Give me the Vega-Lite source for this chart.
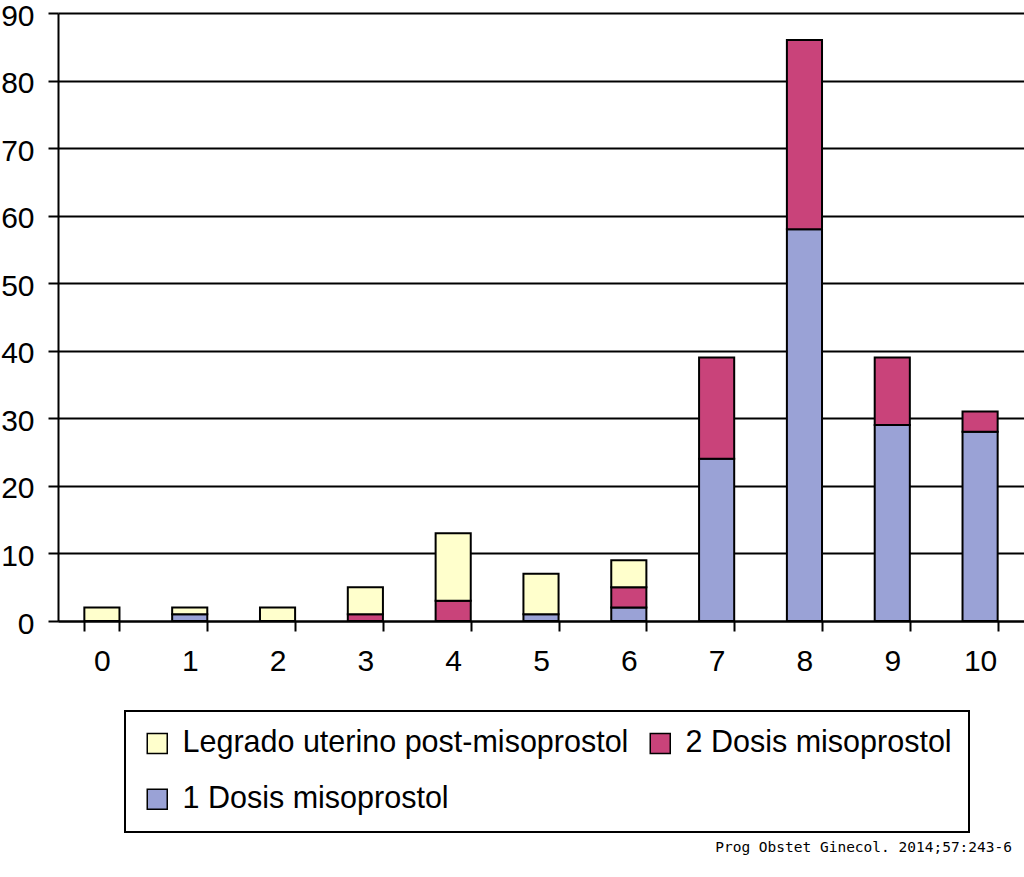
{
  "$schema": "https://vega.github.io/schema/vega-lite/v6.json",
  "autosize": "none",
  "padding": {"left": 58, "top": 13, "right": 0, "bottom": 256},
  "width": 966,
  "height": 608,
  "background": "white",
  "title": {
    "text": "Prog Obstet Ginecol. 2014;57:243-6",
    "orient": "bottom",
    "anchor": "end",
    "offset": 8,
    "dx": -12,
    "font": "DejaVu Sans Mono",
    "fontSize": 14.5,
    "fontWeight": "normal",
    "color": "black"
  },
  "data": {
    "values": [
      {"grupo": "0", "tipo": "1 Dosis misoprostol", "n": 0},
      {"grupo": "0", "tipo": "2 Dosis misoprostol", "n": 0},
      {"grupo": "0", "tipo": "Legrado uterino post-misoprostol", "n": 2},
      {"grupo": "1", "tipo": "1 Dosis misoprostol", "n": 1},
      {"grupo": "1", "tipo": "2 Dosis misoprostol", "n": 0},
      {"grupo": "1", "tipo": "Legrado uterino post-misoprostol", "n": 1},
      {"grupo": "2", "tipo": "1 Dosis misoprostol", "n": 0},
      {"grupo": "2", "tipo": "2 Dosis misoprostol", "n": 0},
      {"grupo": "2", "tipo": "Legrado uterino post-misoprostol", "n": 2},
      {"grupo": "3", "tipo": "1 Dosis misoprostol", "n": 0},
      {"grupo": "3", "tipo": "2 Dosis misoprostol", "n": 1},
      {"grupo": "3", "tipo": "Legrado uterino post-misoprostol", "n": 4},
      {"grupo": "4", "tipo": "1 Dosis misoprostol", "n": 0},
      {"grupo": "4", "tipo": "2 Dosis misoprostol", "n": 3},
      {"grupo": "4", "tipo": "Legrado uterino post-misoprostol", "n": 10},
      {"grupo": "5", "tipo": "1 Dosis misoprostol", "n": 1},
      {"grupo": "5", "tipo": "2 Dosis misoprostol", "n": 0},
      {"grupo": "5", "tipo": "Legrado uterino post-misoprostol", "n": 6},
      {"grupo": "6", "tipo": "1 Dosis misoprostol", "n": 2},
      {"grupo": "6", "tipo": "2 Dosis misoprostol", "n": 3},
      {"grupo": "6", "tipo": "Legrado uterino post-misoprostol", "n": 4},
      {"grupo": "7", "tipo": "1 Dosis misoprostol", "n": 24},
      {"grupo": "7", "tipo": "2 Dosis misoprostol", "n": 15},
      {"grupo": "7", "tipo": "Legrado uterino post-misoprostol", "n": 0},
      {"grupo": "8", "tipo": "1 Dosis misoprostol", "n": 58},
      {"grupo": "8", "tipo": "2 Dosis misoprostol", "n": 28},
      {"grupo": "8", "tipo": "Legrado uterino post-misoprostol", "n": 0},
      {"grupo": "9", "tipo": "1 Dosis misoprostol", "n": 29},
      {"grupo": "9", "tipo": "2 Dosis misoprostol", "n": 10},
      {"grupo": "9", "tipo": "Legrado uterino post-misoprostol", "n": 0},
      {"grupo": "10", "tipo": "1 Dosis misoprostol", "n": 28},
      {"grupo": "10", "tipo": "2 Dosis misoprostol", "n": 3},
      {"grupo": "10", "tipo": "Legrado uterino post-misoprostol", "n": 0}
    ]
  },
  "transform": [{"filter": "datum.n > 0"}],
  "mark": {"type": "bar", "stroke": "black", "strokeWidth": 2},
  "encoding": {
    "x": {
      "field": "grupo",
      "type": "ordinal",
      "sort": ["0", "1", "2", "3", "4", "5", "6", "7", "8", "9", "10"],
      "scale": {"paddingInner": 0.6, "paddingOuter": 0.3},
      "axis": {
        "title": null,
        "labelAngle": 0,
        "labelFont": "Liberation Sans",
        "labelFontSize": 30,
        "labelColor": "black",
        "labelPadding": 15,
        "tickBand": "extent",
        "tickSize": 10,
        "tickWidth": 2,
        "tickColor": "black",
        "domainColor": "black",
        "domainWidth": 2
      }
    },
    "y": {
      "field": "n",
      "type": "quantitative",
      "stack": "zero",
      "scale": {"domain": [0, 90]},
      "axis": {
        "title": null,
        "values": [0, 10, 20, 30, 40, 50, 60, 70, 80, 90],
        "labelFont": "Liberation Sans",
        "labelFontSize": 30,
        "labelColor": "black",
        "labelPadding": 14,
        "labelOffset": 3,
        "tickSize": 10,
        "tickWidth": 2,
        "tickColor": "black",
        "domainColor": "black",
        "domainWidth": 2,
        "grid": true,
        "gridColor": "black",
        "gridWidth": 2,
        "gridOpacity": 1
      }
    },
    "color": {
      "field": "tipo",
      "type": "nominal",
      "scale": {
        "domain": ["Legrado uterino post-misoprostol", "1 Dosis misoprostol", "2 Dosis misoprostol"],
        "range": ["#FFFFCC", "#9AA2D6", "#C9437A"]
      },
      "legend": {
        "title": null,
        "orient": "none",
        "legendX": 67,
        "legendY": 698,
        "columns": 2,
        "columnPadding": 16,
        "rowPadding": 25,
        "padding": 17,
        "strokeColor": "black",
        "symbolType": "square",
        "symbolSize": 400,
        "symbolStrokeColor": "black",
        "symbolStrokeWidth": 1.5,
        "symbolOpacity": 1,
        "labelFont": "Liberation Sans",
        "labelFontSize": 30.5,
        "labelColor": "black",
        "labelLimit": 600,
        "labelOffset": 10,
        "encode": {"legend": {"update": {"strokeWidth": {"value": 2}}}}
      }
    },
    "order": {"field": "tipo", "sort": "ascending"}
  },
  "config": {
    "view": {"stroke": null}
  }
}
